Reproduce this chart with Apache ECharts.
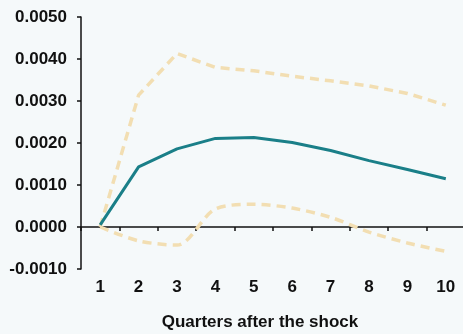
<!DOCTYPE html>
<html>
<head>
<meta charset="utf-8">
<script src="https://cdn.jsdelivr.net/npm/echarts@6/dist/echarts.min.js"></script>
<style>
html,body{margin:0;padding:0;background:#f5f9fa;}
#chart{width:463px;height:334px;}
</style>
</head>
<body>
<div id="chart"></div>
<script>
var categories = ['1','2','3','4','5','6','7','8','9','10'];
var response = [0.00005, 0.00143, 0.00186, 0.00211, 0.00213, 0.00201, 0.00182, 0.00158, 0.00137, 0.00115];
var upperBand = [0.0000, 0.00314, 0.00413, 0.00380, 0.00372, 0.00359, 0.00348, 0.00336, 0.00318, 0.00290];
var lowerBand = [0.0000, -0.00033, -0.00043, 0.00043, 0.00054, 0.00045, 0.00023, -0.00012, -0.00038, -0.00058];
var xAxisTitle = 'Quarters after the shock';

var chart = echarts.init(document.getElementById('chart'));
var font = {fontFamily:'Liberation Sans, Arial, sans-serif', fontWeight:'bold', fontSize:17, color:'#111'};
chart.setOption({
  backgroundColor:'#f5f9fa',
  animation:false,
  grid:{left:81, top:17, width:384, bottom:65, containLabel:false, outerBoundsMode:'none'},
  xAxis:{
    type:'category', data:categories, boundaryGap:true,
    axisLine:{onZero:true, lineStyle:{color:'#111', width:1.5}},
    axisTick:{show:true, length:4, lineStyle:{color:'#111', width:1.5}},
    axisLabel:Object.assign({margin:10}, font),
    name:xAxisTitle, nameLocation:'middle', nameGap:45, nameMoveOverlap:false,
    nameTextStyle:Object.assign({padding:[0,26,0,0]}, font)
  },
  yAxis:{
    type:'value', min:-0.001, max:0.005, interval:0.001,
    axisLine:{show:true, lineStyle:{color:'#111', width:1.5}},
    axisTick:{show:true, length:4, lineStyle:{color:'#111', width:1.5}},
    splitLine:{show:false},
    axisLabel:Object.assign({margin:14, formatter:function(v){return v.toFixed(4);}}, font)
  },
  series:[
    {type:'line', data:upperBand, symbol:'none', lineStyle:{color:'#f2deb2', width:3.5, type:[9,6]}},
    {type:'line', data:lowerBand, symbol:'none', smooth:0.3, lineStyle:{color:'#f2deb2', width:3.5, type:[9,6]}},
    {type:'line', data:response, symbol:'none', lineStyle:{color:'#1a7f88', width:3}}
  ]
});
</script>
</body>
</html>
